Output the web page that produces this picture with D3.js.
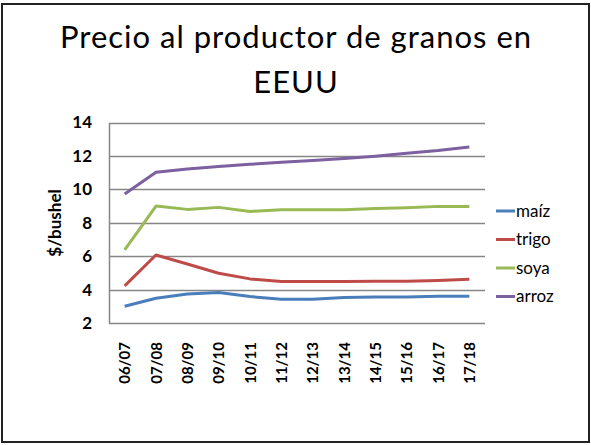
<!DOCTYPE html>
<html>
<head>
<meta charset="utf-8">
<script src="https://cdn.jsdelivr.net/npm/d3@7"></script>
<style>
  html, body { margin: 0; padding: 0; background: #fff; }
  svg { display: block; font-family: Lato, "Open Sans", sans-serif; }
</style>
</head>
<body>
<svg id="chart" width="591" height="445"></svg>
<script>
const width = 591;
const height = 445;

const seasons = ['06/07','07/08','08/09','09/10','10/11','11/12','12/13','13/14','14/15','15/16','16/17','17/18'];
const maiz  = [3.0, 3.48, 3.74, 3.82, 3.58, 3.42, 3.42, 3.52, 3.55, 3.55, 3.6, 3.6];
const trigo = [4.22, 6.07, 5.53, 4.98, 4.64, 4.48, 4.48, 4.48, 4.5, 4.5, 4.55, 4.62];
const soya  = [6.37, 9.0, 8.8, 8.92, 8.68, 8.78, 8.78, 8.78, 8.85, 8.9, 8.98, 8.98];
const arroz = [9.72, 11.02, 11.22, 11.36, 11.5, 11.62, 11.72, 11.84, 11.98, 12.16, 12.32, 12.54];
const yTicks = [2, 4, 6, 8, 10, 12, 14];

const series = [
  {name:'maíz', values:maiz, color:'#4a7ebb'},
  {name:'trigo', values:trigo, color:'#be4b48'},
  {name:'soya', values:soya, color:'#98b954'},
  {name:'arroz', values:arroz, color:'#7d60a0'}
];

const svg = d3.select('#chart');
const plot = {left:109, right:485, top:122.5, bottom:323};

// borde exterior
svg.append('rect')
  .attr('x',2).attr('y',4).attr('width',587).attr('height',438)
  .attr('fill','none').attr('stroke','#222').attr('stroke-width',2);

// titulo
const title = svg.append('text')
  .attr('text-anchor','middle').attr('font-size',31).attr('letter-spacing',1)
  .attr('font-family','Lato, sans-serif').attr('fill','#000');
title.append('tspan').attr('x',296).attr('y',48).text('Precio al productor de granos en');
title.append('tspan').attr('x',296).attr('y',93).text('EEUU');

const x = d3.scalePoint().domain(seasons).range([plot.left, plot.right]).padding(0.5);
const y = d3.scaleLinear().domain([2,14]).range([plot.bottom, plot.top]);

// rejilla
svg.append('g').selectAll('line').data(yTicks).enter().append('line')
  .attr('x1',plot.left).attr('x2',plot.right)
  .attr('y1',d=>Math.round(y(d))+0.5).attr('y2',d=>Math.round(y(d))+0.5)
  .attr('stroke','#868686').attr('stroke-width',1.5);

// eje y
const yAxis = svg.append('g').attr('transform',`translate(${plot.left},0)`)
  .call(d3.axisLeft(y).tickValues(yTicks).tickSize(0).tickPadding(17));
yAxis.select('.domain').attr('stroke','#868686').attr('stroke-width',1.5);
yAxis.selectAll('text').attr('font-size',17).attr('font-family','Lato, sans-serif').attr('fill','#000').attr('font-weight','bold');

// eje x
const xAxis = svg.append('g').attr('transform',`translate(0,${plot.bottom})`)
  .call(d3.axisBottom(x).tickSize(0));
xAxis.select('.domain').remove();
xAxis.selectAll('text')
  .attr('font-size',15).attr('font-family','Lato, sans-serif').attr('font-weight','bold').attr('fill','#000')
  .attr('transform','rotate(-90)')
  .attr('text-anchor','end')
  .attr('x',-19).attr('y',0).attr('dy','0.35em');

// etiqueta eje y
svg.append('text')
  .attr('transform','translate(61,223) rotate(-90)')
  .attr('text-anchor','middle').attr('font-size',17).attr('font-weight','bold')
  .text('$/bushel');

// lineas
const line = d3.line().x((d,i)=>x(seasons[i])).y(d=>y(d));
svg.append('g').selectAll('path').data(series).enter().append('path')
  .attr('d',d=>line(d.values))
  .attr('fill','none').attr('stroke',d=>d.color).attr('stroke-width',3)
  .attr('stroke-linejoin','round');

// leyenda
const legend = svg.append('g').selectAll('g').data(series).enter().append('g')
  .attr('transform',(d,i)=>`translate(496,${211 + i*28.5})`);
legend.append('line').attr('x1',0).attr('x2',19).attr('y1',0).attr('y2',0)
  .attr('stroke',d=>d.color).attr('stroke-width',3);
legend.append('text').attr('x',20).attr('dy','0.35em')
  .attr('font-size',17).attr('fill','#000').text(d=>d.name);
</script>
</body>
</html>
